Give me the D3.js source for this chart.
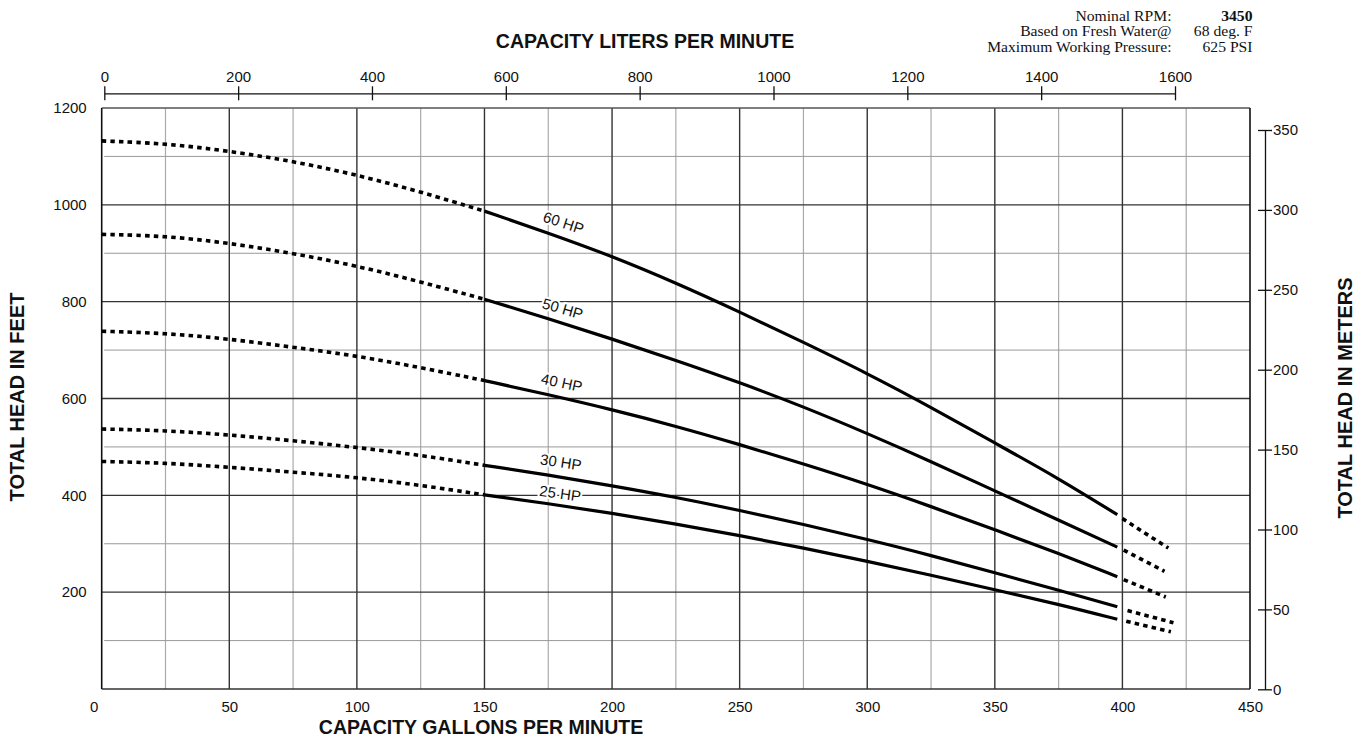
<!DOCTYPE html>
<html><head><meta charset="utf-8">
<script src="https://cdn.jsdelivr.net/npm/d3@7/dist/d3.min.js"></script>
<style>
body{margin:0;background:#fff;}
svg{display:block;}
text{font-family:"Liberation Sans",Arial,Helvetica,sans-serif;}
</style></head>
<body>
<svg id="c" width="1359" height="739"></svg>
<script>
// ---------- DATA ----------
const gpmTicks = [0,50,100,150,200,250,300,350,400,450];
const lpmTicks = [0,200,400,600,800,1000,1200,1400,1600];
const feetTicks = [200,400,600,800,1000,1200];
const meterTicks = [0,50,100,150,200,250,300,350];

const leftGpm = [0,25,50,75,100,125,150];           // dotted (left) section
const midGpm  = [150,175,200,225,250,275,300,325,350,375,398]; // solid section

const hp60Left = [1132,1127,1111,1090,1062,1027,987];
const hp50Left = [939,936,921,900,874,841,805];
const hp40Left = [739,735,723,706,688,664,637];
const hp30Left = [537,534,525,513,499,483,462];
const hp25Left = [470,467,458,448,437,421,401];

const hp60Mid = [987,942,894,839,779,716,652,582,508,435,360];
const hp50Mid = [805,765,723,679,633,583,528,470,409,349,293];
const hp40Mid = [637,608,577,543,505,465,423,377,329,280,232];
const hp30Mid = [462,442,420,396,369,340,309,276,240,204,170];
const hp25Mid = [401,383,363,341,317,291,264,235,205,175,144];

// dotted tail sections [gpm, feet]
const hp60Tail = [[400,352],[418,291]];
const hp50Tail = [[400.5,287],[416.5,243]];
const hp40Tail = [[400.5,226],[417,190]];
const hp30Tail = [[402,162],[420,137]];
const hp25Tail = [[401.5,140],[419,118]];

const curveNames = ["60 HP","50 HP","40 HP","30 HP","25 HP"];

const infoLabels = ["Nominal RPM:","Based on Fresh Water@","Maximum Working Pressure:"];
const infoValues = ["3450","68 deg. F","625 PSI"];

// ---------- BUILD ----------
const series = [
  {name:curveNames[0], left:hp60Left, mid:hp60Mid, tail:hp60Tail, off:15},
  {name:curveNames[1], left:hp50Left, mid:hp50Mid, tail:hp50Tail, off:14},
  {name:curveNames[2], left:hp40Left, mid:hp40Mid, tail:hp40Tail, off:15},
  {name:curveNames[3], left:hp30Left, mid:hp30Mid, tail:hp30Tail, off:15},
  {name:curveNames[4], left:hp25Left, mid:hp25Mid, tail:hp25Tail, off:12}
];

const svg = d3.select("#c");
const x  = d3.scaleLinear([0,450],[101.7,1250]);
const y  = d3.scaleLinear([0,1200],[689,108]);
const xL = d3.scaleLinear([0,1600],[104.3,1175]);
const yM = d3.scaleLinear([0,350],[689.3,130]);
const fmt = d3.format("d");

const minorCol="#aaa", majorCol="#333";

// grid
const g = svg.append("g");
d3.range(25,450,50).forEach(v=>{
  g.append("line").attr("x1",x(v)).attr("x2",x(v)).attr("y1",y(0)).attr("y2",y(1200))
   .attr("stroke",minorCol).attr("stroke-width",1.2);
});
d3.range(100,1200,200).forEach(v=>{
  g.append("line").attr("x1",x(0)+2.5).attr("x2",x(450)).attr("y1",y(v)).attr("y2",y(v))
   .attr("stroke","#999").attr("stroke-width",1);
});
d3.range(50,450,50).forEach(v=>{
  g.append("line").attr("x1",x(v)).attr("x2",x(v)).attr("y1",y(0)).attr("y2",y(1200))
   .attr("stroke",majorCol).attr("stroke-width",1.4);
});
d3.range(200,1200,200).forEach(v=>{
  g.append("line").attr("x1",x(0)).attr("x2",x(450)).attr("y1",y(v)).attr("y2",y(v))
   .attr("stroke",majorCol).attr("stroke-width",1.4);
});
// frame
g.append("line").attr("x1",x(0)).attr("x2",x(450)).attr("y1",y(1200)).attr("y2",y(1200)).attr("stroke","#555").attr("stroke-width",1.4);
g.append("line").attr("x1",x(0)).attr("x2",x(450)).attr("y1",y(0)).attr("y2",y(0)).attr("stroke","#333").attr("stroke-width",1.6);
g.append("line").attr("x1",x(0)).attr("x2",x(0)).attr("y1",y(0)).attr("y2",y(1200)).attr("stroke","#111").attr("stroke-width",1.6);
g.append("line").attr("x1",x(450)).attr("x2",x(450)).attr("y1",y(0)).attr("y2",y(1200)).attr("stroke","#111").attr("stroke-width",1.6);

const tickFont = "'Liberation Sans',Arial,sans-serif";

// bottom axis labels
const bx = svg.append("g").attr("transform",`translate(0,${y(0)})`)
  .call(d3.axisBottom(x).tickValues(gpmTicks).tickFormat(fmt).tickSize(0).tickPadding(12));
bx.select(".domain").remove();
bx.selectAll("text").attr("font-size",15).attr("fill","#111").attr("font-family",tickFont)
  .attr("dx",d=>d===0?-8:0);

// left axis labels
const ly = svg.append("g").attr("transform",`translate(${x(0)},0)`)
  .call(d3.axisLeft(y).tickValues(feetTicks).tickFormat(fmt).tickSize(0).tickPadding(15));
ly.select(".domain").remove();
ly.selectAll("text").attr("font-size",15).attr("fill","#111").attr("font-family",tickFont);

// top axis (liters)
const tx = svg.append("g").attr("transform","translate(0,93.3)")
  .call(d3.axisTop(xL).tickValues(lpmTicks).tickFormat(fmt).tickSizeInner(7).tickSizeOuter(0).tickPadding(4));
tx.select(".domain").attr("stroke","#111").attr("stroke-width",1.3);
tx.selectAll(".tick line").attr("y1",-7).attr("y2",7).attr("stroke","#111").attr("stroke-width",1.3);
tx.selectAll("text").attr("font-size",15).attr("fill","#111").attr("font-family",tickFont).attr("y",-11);

// right axis (meters)
const ry = svg.append("g").attr("transform","translate(1265,0)")
  .call(d3.axisRight(yM).tickValues(meterTicks).tickFormat(fmt).tickSizeInner(7).tickSizeOuter(0).tickPadding(2));
ry.select(".domain").attr("stroke","#111").attr("stroke-width",1.3);
ry.selectAll(".tick line").attr("x1",-7).attr("x2",7).attr("stroke","#111").attr("stroke-width",1.3);
ry.selectAll("text").attr("font-size",15).attr("fill","#111").attr("font-family",tickFont).attr("x",8);

// curve labels (with white halo, drawn beneath curves)
function interp(gArr, fArr, gv){
  for(let i=0;i<gArr.length-1;i++){
    if(gv>=gArr[i] && gv<=gArr[i+1]){
      const t=(gv-gArr[i])/(gArr[i+1]-gArr[i]);
      return fArr[i]+t*(fArr[i+1]-fArr[i]);
    }
  }
  return fArr[fArr.length-1];
}
const labG = svg.append("g");
series.forEach(s=>{
  const gv=179;
  const px1=x(gv-6), py1=y(interp(midGpm,s.mid,gv-6));
  const px2=x(gv+6), py2=y(interp(midGpm,s.mid,gv+6));
  const dx=px2-px1, dy=py2-py1, len=Math.hypot(dx,dy);
  const ang=Math.atan2(dy,dx)*180/Math.PI;
  const cx=x(gv)+dy/len*s.off, cy=y(interp(midGpm,s.mid,gv))-dx/len*s.off;
  labG.append("text").attr("transform",`translate(${cx},${cy}) rotate(${ang*0.92})`)
    .attr("text-anchor","middle").attr("dominant-baseline","central")
    .attr("font-size",15).attr("fill","#111")
    .attr("stroke","#fff").attr("stroke-width",4).attr("paint-order","stroke")
    .text(s.name);
});

// curves
const line = d3.line().x(d=>x(d[0])).y(d=>y(d[1])).curve(d3.curveBasis);
const cg = svg.append("g").attr("fill","none").attr("stroke","#000");
series.forEach(s=>{
  cg.append("path").attr("d",line(leftGpm.map((v,i)=>[v,s.left[i]])))
    .attr("stroke-width",3.6).attr("stroke-dasharray","4.5,4.2");
  cg.append("path").attr("d",line(midGpm.map((v,i)=>[v,s.mid[i]])))
    .attr("stroke-width",3.2);
  cg.append("path").attr("d",line(s.tail))
    .attr("stroke-width",3.6).attr("stroke-dasharray","4.5,4.2");
});

// titles
svg.append("text").attr("x",645).attr("y",48).attr("text-anchor","middle")
  .attr("font-size",19.5).attr("font-weight","bold").attr("fill","#111")
  .text("CAPACITY LITERS PER MINUTE");
svg.append("text").attr("x",481).attr("y",734).attr("text-anchor","middle")
  .attr("font-size",19.5).attr("font-weight","bold").attr("fill","#111")
  .text("CAPACITY GALLONS PER MINUTE");
svg.append("text").attr("transform","translate(24,397) rotate(-90)").attr("text-anchor","middle")
  .attr("font-size",20).attr("font-weight","bold").attr("fill","#111")
  .text("TOTAL HEAD IN FEET");
svg.append("text").attr("transform","translate(1352,398) rotate(-90)").attr("text-anchor","middle")
  .attr("font-size",20).attr("font-weight","bold").attr("fill","#111")
  .text("TOTAL HEAD IN METERS");

// info block (compact, horizontally widened to match the original's width)
const serif = "'Liberation Serif','Times New Roman',serif";
const stretch = 1.15;
function infoText(xpos, ypos, txt, bold){
  const t = svg.append("text").attr("x",xpos).attr("y",ypos).attr("text-anchor","end")
    .attr("font-size",13.6).attr("fill","#111").style("font-family",serif)
    .attr("font-weight",bold?"bold":"normal").text(txt);
  const w = t.node().getComputedTextLength();
  t.attr("textLength",w*stretch).attr("lengthAdjust","spacingAndGlyphs");
}
infoLabels.forEach((t,i)=>infoText(1171.5, 20.5+i*15.5, t, false));
infoValues.forEach((t,i)=>infoText(1252.5, 20.5+i*15.5, t, i===0));
</script>
</body></html>
